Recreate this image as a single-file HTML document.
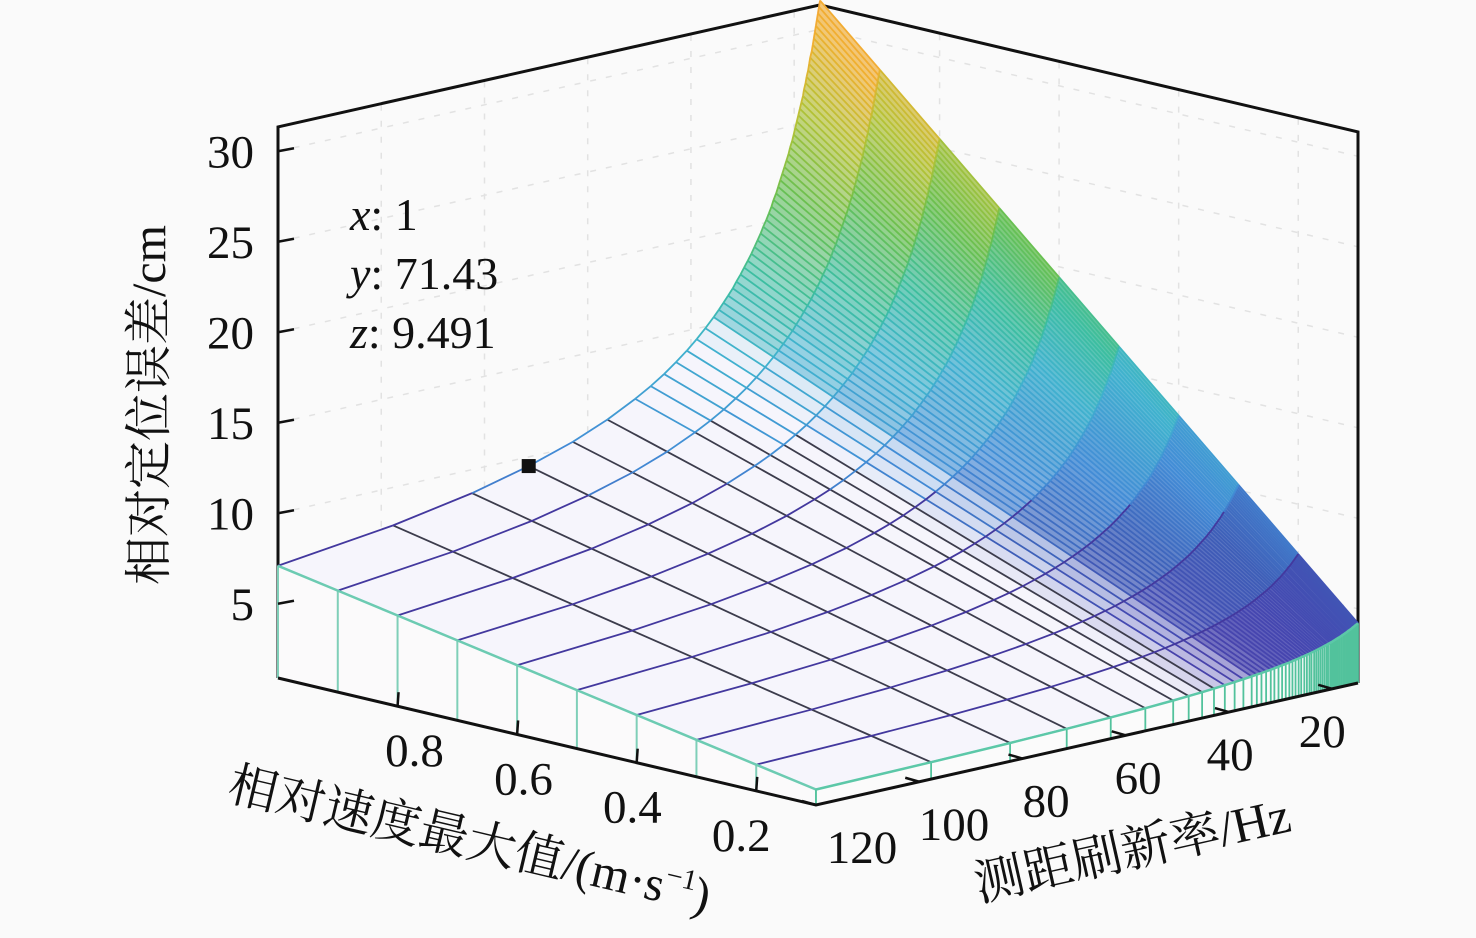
<!DOCTYPE html>
<html><head><meta charset="utf-8">
<style>
html,body{margin:0;padding:0;background:#fafafa;}
svg{display:block;}
text{font-family:"Liberation Serif","Noto Serif CJK SC",serif;fill:#111;}
</style></head>
<body>
<svg id="chart" width="1476" height="938" viewBox="0 0 1476 938" xmlns="http://www.w3.org/2000/svg">
<rect x="0" y="0" width="1476" height="938" fill="#fafafa"/>
<g id="back"></g>
<g id="surf"></g>
<g id="front"></g>
<g id="labels"></g>
<text x="350" y="230" font-size="46"><tspan font-style="italic">x</tspan>: 1</text>
<text x="350" y="289" font-size="46"><tspan font-style="italic">y</tspan>: 71.43</text>
<text x="350" y="348" font-size="46"><tspan font-style="italic">z</tspan>: 9.491</text>
<text transform="translate(165,405) rotate(-90)" text-anchor="middle" font-size="48">相对定位误差/cm</text>
<text transform="translate(466,856) rotate(13.3)" text-anchor="middle" font-size="49">相对速度最大值/(m·s<tspan font-size="29" dy="-19">−1</tspan><tspan dy="19">)</tspan></text>
<text transform="translate(1136,866) rotate(-12.7)" text-anchor="middle" font-size="50">测距刷新率/Hz</text>
</svg>
<script>
const velocities=[1.0,0.9,0.8,0.7,0.6,0.5,0.4,0.3,0.2,0.1];
const freqs=[120,97.7,82.4,71.43,62.9,56.2,50.8,47.8,45.2,42.9,40.8,38.9,37.2,35.6,34.6,33.7,32.8,31.9,31.2,30.4,29.7,29.0,28.3,27.7,27.1,26.5,26.0,25.4,24.9,24.4,24.0,23.5,23.1,22.7,22.3,21.9,21.5,21.1,20.8,20.4,20.1,19.8,19.5,19.2,18.9,18.6,18.3,18.1,17.8,17.6,17.3,17.1,16.9,16.6,16.4,16.2,16.0,15.8,15.6,15.4,15.2,15.0];
const zAtV1=[7.10,7.90,8.70,9.49,10.28,11.08,11.88,12.39,12.89,13.40,13.90,14.41,14.91,15.42,15.76,16.09,16.43,16.77,17.10,17.44,17.78,18.11,18.45,18.79,19.12,19.46,19.80,20.14,20.47,20.81,21.15,21.48,21.82,22.16,22.49,22.83,23.17,23.50,23.84,24.18,24.51,24.85,25.19,25.52,25.86,26.20,26.53,26.87,27.21,27.54,27.88,28.22,28.56,28.89,29.23,29.57,29.90,30.24,30.58,30.91,31.25,31.59];
const zOffset=1.16;
const xTicks=[0.8,0.6,0.4,0.2];
const yTicks=[120,100,80,60,40,20];
const zTicks=[5,10,15,20,25,30];
const markerPt=[1,71.43,9.491];

const XMIN=0.1,XMAX=1.0,YMIN=15,YMAX=120,ZMIN=0.9,ZMAX=31.35;
const L=[278,678],F=[816,805],R=[1358,683],ZS=18.1;
function P(x,y,z){
  const a=(XMAX-x)/(XMAX-XMIN), b=(YMAX-y)/(YMAX-YMIN);
  return [L[0]+a*(F[0]-L[0])+b*(R[0]-F[0]), L[1]+a*(F[1]-L[1])+b*(R[1]-F[1])-(z-ZMIN)*ZS];
}
function Z(i,j){return zOffset+(zAtV1[i]-zOffset)*velocities[j];}
const stops=[[1,[80,60,160]],[4,[69,70,176]],[7,[62,95,184]],[10,[66,140,214]],[14,[64,178,206]],[17,[60,190,160]],[21,[105,192,80]],[25,[180,194,53]],[29,[240,176,48]],[32,[245,165,55]]];
function rgb(z){
  if(z<=stops[0][0])return stops[0][1];
  for(let k=1;k<stops.length;k++){if(z<=stops[k][0]){const t=(z-stops[k-1][0])/(stops[k][0]-stops[k-1][0]);const a=stops[k-1][1],b=stops[k][1];return a.map((v,m)=>Math.round(v+(b[m]-v)*t));}}
  return stops[stops.length-1][1];
}
function cmap(z){return 'rgb('+rgb(z).join(',')+')';}
const NS='http://www.w3.org/2000/svg';
function mk(tag,attrs,parent){const e=document.createElementNS(NS,tag);for(const k in attrs)e.setAttribute(k,attrs[k]);parent.appendChild(e);return e;}
function pts(a){return a.map(p=>p[0].toFixed(1)+','+p[1].toFixed(1)).join(' ');}
const back=document.getElementById('back'),surf=document.getElementById('surf'),front=document.getElementById('front'),labels=document.getElementById('labels');

const Lb=P(XMAX,YMAX,ZMIN),Lt=P(XMAX,YMAX,ZMAX),Bt=P(XMAX,YMIN,ZMAX),Rb=P(XMIN,YMIN,ZMIN),Rt=P(XMIN,YMIN,ZMAX),Fb=P(XMIN,YMAX,ZMIN);
zTicks.forEach(z=>{
  const g=mk('polyline',{points:pts([P(XMAX,YMAX,z),P(XMAX,YMIN,z),P(XMIN,YMIN,z)]),fill:'none',stroke:'#e2e2e2','stroke-width':1.5,'stroke-dasharray':'6,10'},back);
  
  
});
yTicks.forEach(y=>{
  const a=P(XMAX,y,ZMIN),b=P(XMAX,y,ZMAX);
  const g=mk('line',{x1:a[0],y1:a[1],x2:b[0],y2:b[1],stroke:'#e2e2e2','stroke-width':1.5,'stroke-dasharray':'6,10'},back);
  
  
});
xTicks.forEach(x=>{
  const a=P(x,YMIN,ZMIN),b=P(x,YMIN,ZMAX);
  const g=mk('line',{x1:a[0],y1:a[1],x2:b[0],y2:b[1],stroke:'#e2e2e2','stroke-width':1.5,'stroke-dasharray':'6,10'},back);
  
  
});
const box=mk('polyline',{points:pts([Lb,Lt,Bt,Rt,Rb]),fill:'none',stroke:'#111','stroke-width':3},back);



const cells=[];
for(let i=0;i<freqs.length-1;i++)for(let j=0;j<velocities.length-1;j++){
  const d=(velocities[j]-XMIN)/(XMAX-XMIN)+(YMAX-freqs[i+1])/(YMAX-YMIN);
  cells.push([d,i,j]);
}
cells.sort((a,b)=>b[0]-a[0]);
cells.forEach(([d,i,j])=>{
  const q=[P(velocities[j],freqs[i],Z(i,j)),P(velocities[j+1],freqs[i],Z(i,j+1)),P(velocities[j+1],freqs[i+1],Z(i+1,j+1)),P(velocities[j],freqs[i+1],Z(i+1,j))];
  const w=Math.hypot(q[3][0]-q[0][0],q[3][1]-q[0][1]);
  const op=Math.max(0,Math.min(1,(15-w)/11))*0.85;
  const c1=rgb((Z(i,j)+Z(i+1,j+1))/2),pale=[246,245,252];
  const col=pale.map((v,m)=>Math.round(v+(c1[m]-v)*op));
  const c=mk('polygon',{points:pts(q),fill:'rgb('+col.join(',')+')',stroke:'rgb('+col.join(',')+')','stroke-width':0.8},surf);
  
  
});
for(let i=0;i<freqs.length;i++){
  for(let j=0;j<velocities.length-1;j++){
    const a=P(velocities[j],freqs[i],Z(i,j)),b=P(velocities[j+1],freqs[i],Z(i,j+1));
    const zm=(Z(i,j)+Z(i,j+1))/2;
    const col=(i<10&&zm<11)?'#3c3c4c':cmap(zm);
    const s=mk('line',{x1:a[0],y1:a[1],x2:b[0],y2:b[1],stroke:col,'stroke-width':1.8},surf);
    
    
  }
}
for(let j=0;j<velocities.length;j++){
  for(let i=0;i<freqs.length-1;i++){
    const a=P(velocities[j],freqs[i],Z(i,j)),b=P(velocities[j],freqs[i+1],Z(i+1,j));
    const zm=(Z(i,j)+Z(i+1,j))/2;
    const col=zm<9?'#43389e':cmap(zm);
    const s=mk('line',{x1:a[0],y1:a[1],x2:b[0],y2:b[1],stroke:col,'stroke-width':1.8},surf);
    
    
  }
}
{
  const top=velocities.map((v,j)=>P(v,freqs[0],Z(0,j)));
  const poly=top.concat([P(XMIN,freqs[0],ZMIN),P(XMAX,freqs[0],ZMIN)]);
  const s=mk('polygon',{points:pts(poly),fill:'#fbfafb',stroke:'none'},surf);
  
  
  velocities.forEach((v,j)=>{
    const a=P(v,freqs[0],Z(0,j)),b=P(v,freqs[0],ZMIN);
    const l=mk('line',{x1:a[0],y1:a[1],x2:b[0],y2:b[1],stroke:'#7fcfb8','stroke-width':2},surf);
    
    
  });
  const e=mk('polyline',{points:pts(top),fill:'none',stroke:'#6ccbb2','stroke-width':2.5},surf);
  
  
}
{
  const jm=velocities.length-1;
  const top=freqs.map((f,i)=>P(velocities[jm],f,Z(i,jm)));
  const poly=top.concat([P(XMIN,freqs[freqs.length-1],ZMIN),P(XMIN,freqs[0],ZMIN)]);
  const s=mk('polygon',{points:pts(poly),fill:'#fbfbfb',stroke:'none'},surf);
  
  
  freqs.forEach((f,i)=>{
    const a=P(velocities[jm],f,Z(i,jm)),b=P(velocities[jm],f,ZMIN);
    const l=mk('line',{x1:a[0],y1:a[1],x2:b[0],y2:b[1],stroke:'#52c29c','stroke-width':1.8},surf);
    
    
  });
  const e=mk('polyline',{points:pts(top),fill:'none',stroke:'#5cc8a8','stroke-width':2.5},surf);
  
  
}
const ax=mk('polyline',{points:pts([Lb,Fb,Rb]),fill:'none',stroke:'#111','stroke-width':3},front);


zTicks.forEach(z=>{
  const p=P(XMAX,YMAX,z);
  const t=mk('line',{x1:p[0],y1:p[1],x2:p[0]+16,y2:p[1]-3,stroke:'#111','stroke-width':2.5},front);
  
  
  const tx=mk('text',{x:254,y:p[1]+16,'text-anchor':'end','font-size':47},labels);
  tx.textContent=String(z);
  
  
});
xTicks.forEach(x=>{
  const p=P(x,YMAX,ZMIN);
  const t=mk('line',{x1:p[0],y1:p[1],x2:p[0]+1,y2:p[1]-14,stroke:'#111','stroke-width':2.5},front);
  
  
  const off=17-(0.8-x)/0.6*32;
  const tx=mk('text',{x:p[0]+off,y:p[1]+60,'text-anchor':'middle','font-size':47},labels);
  tx.textContent=x.toFixed(1);
  
  
});
yTicks.forEach(y=>{
  const p=P(XMIN,y,ZMIN);
  const t=mk('line',{x1:p[0],y1:p[1],x2:p[0]-14,y2:p[1]-4,stroke:'#111','stroke-width':2.5},front);
  
  
  const off=46-(120-y)/100*56;
  const tx=mk('text',{x:p[0]+off,y:p[1]+58,'text-anchor':'middle','font-size':47},labels);
  tx.textContent=String(y);
  
  
});
{
  const p=P(markerPt[0],markerPt[1],markerPt[2]);
  const m=mk('rect',{x:p[0]-7,y:p[1]-7,width:14,height:14,fill:'#111'},front);
  
  
}
</script>
</body></html>
